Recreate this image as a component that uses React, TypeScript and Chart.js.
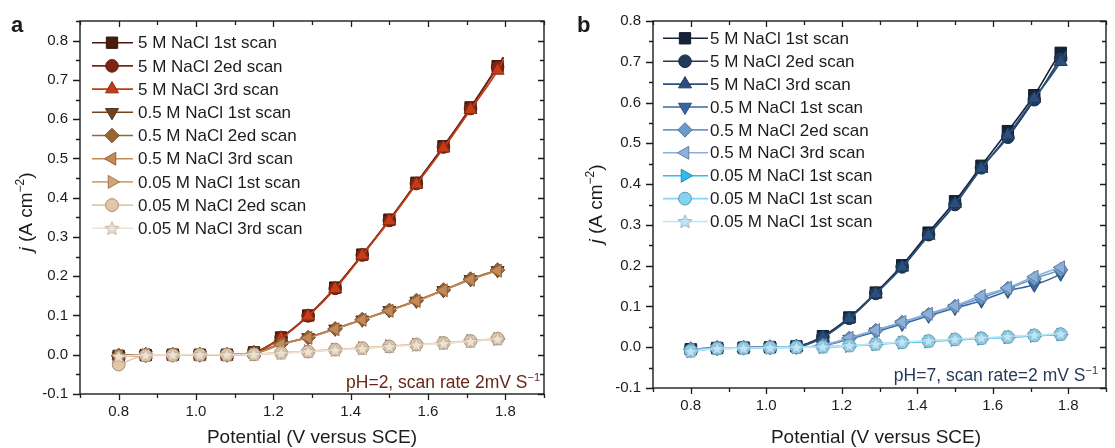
import { useEffect, useRef } from "react";
import { Chart, registerables } from "chart.js";
import { drawPoint } from "chart.js/helpers";

Chart.register(...registerables);

const FONT = "'Liberation Sans', Arial, Helvetica, sans-serif";
const INK = "#1c1c1c";

// Sampled potentials (V vs SCE); the final entry is the end of the sweep and carries no marker
const potential = [0.8, 0.87, 0.94, 1.01, 1.08, 1.15, 1.22, 1.29, 1.36, 1.43, 1.5, 1.57, 1.64, 1.71, 1.78, 1.795];

// Panel a: pH = 2
const a5M1 = [-0.003, -0.001, 0, 0, 0, 0.006, 0.044, 0.1, 0.171, 0.255, 0.344, 0.438, 0.531, 0.63, 0.735, 0.758];
const a5M2 = [-0.004, -0.001, 0, 0, 0, 0.005, 0.043, 0.099, 0.169, 0.254, 0.342, 0.436, 0.529, 0.627, 0.733, 0.757];
const a5M3 = [-0.002, 0, 0, 0, 0, 0.005, 0.042, 0.098, 0.168, 0.253, 0.341, 0.434, 0.526, 0.624, 0.724, 0.752];
const a05M1 = [-0.003, -0.001, 0, 0, 0, 0.004, 0.027, 0.044, 0.066, 0.089, 0.113, 0.137, 0.164, 0.192, 0.215, 0.219];
const a05M2 = [-0.002, 0, 0, 0, 0, 0.004, 0.028, 0.044, 0.066, 0.09, 0.113, 0.138, 0.165, 0.193, 0.216, 0.22];
const a05M3 = [-0.003, 0, 0, 0, 0, 0.003, 0.026, 0.043, 0.065, 0.089, 0.112, 0.137, 0.164, 0.191, 0.214, 0.218];
const a005M1 = [-0.005, -0.001, 0, 0, 0, 0.001, 0.005, 0.009, 0.013, 0.017, 0.022, 0.026, 0.03, 0.035, 0.04, 0.041];
const a005M2 = [-0.025, -0.002, -0.001, 0, 0, 0.001, 0.005, 0.008, 0.013, 0.017, 0.021, 0.026, 0.03, 0.035, 0.041, 0.042];
const a005M3 = [-0.004, -0.001, 0, 0, 0, 0.001, 0.004, 0.008, 0.012, 0.016, 0.021, 0.025, 0.029, 0.034, 0.04, 0.041];

// Panel b: pH = 7
const b5M1 = [-0.005, -0.002, -0.001, 0, 0.002, 0.027, 0.073, 0.134, 0.201, 0.281, 0.358, 0.445, 0.53, 0.618, 0.722, 0.735];
const b5M2 = [-0.006, -0.002, -0.001, 0, 0.002, 0.025, 0.071, 0.132, 0.197, 0.276, 0.35, 0.44, 0.515, 0.607, 0.708, 0.728];
const b5M3 = [-0.005, -0.002, -0.001, 0, 0.001, 0.024, 0.07, 0.131, 0.196, 0.274, 0.352, 0.438, 0.52, 0.61, 0.7, 0.725];
const b05M1 = [-0.006, -0.002, -0.001, 0, 0, 0.004, 0.02, 0.038, 0.057, 0.077, 0.096, 0.114, 0.138, 0.153, 0.18, 0.19];
const b05M2 = [-0.005, -0.002, -0.001, 0, 0, 0.005, 0.022, 0.041, 0.061, 0.08, 0.1, 0.121, 0.144, 0.168, 0.19, 0.196];
const b05M3 = [-0.006, -0.002, -0.001, 0, 0, 0.005, 0.023, 0.042, 0.062, 0.082, 0.102, 0.126, 0.146, 0.173, 0.196, 0.2];
const b005M1 = [-0.01, -0.003, -0.002, -0.001, 0, 0, 0.003, 0.007, 0.011, 0.014, 0.018, 0.021, 0.024, 0.028, 0.031, 0.032];
const b005M2 = [-0.009, -0.003, -0.002, -0.001, 0, 0.001, 0.004, 0.008, 0.012, 0.015, 0.019, 0.022, 0.025, 0.029, 0.032, 0.033];
const b005M3 = [-0.01, -0.003, -0.002, -0.001, 0, 0.001, 0.004, 0.008, 0.013, 0.016, 0.02, 0.023, 0.026, 0.03, 0.033, 0.034];

const namesA = [
  "5 M NaCl 1st scan", "5 M NaCl 2ed scan", "5 M NaCl 3rd scan",
  "0.5 M NaCl 1st scan", "0.5 M NaCl 2ed scan", "0.5 M NaCl 3rd scan",
  "0.05 M NaCl 1st scan", "0.05 M NaCl 2ed scan", "0.05 M NaCl 3rd scan",
];
const namesB = [
  "5 M NaCl 1st scan", "5 M NaCl 2ed scan", "5 M NaCl 3rd scan",
  "0.5 M NaCl 1st scan", "0.5 M NaCl 2ed scan", "0.5 M NaCl 3rd scan",
  "0.05 M NaCl 1st scan", "0.05 M NaCl 1st scan", "0.05 M NaCl 1st scan",
];

const colorsA = ["#4a1a0e", "#7c2512", "#c43c18", "#704421", "#9b6533", "#c38a58", "#d6a472", "#e3c6a6", "#efe1cf"];
const colorsB = ["#14233a", "#203a5a", "#2b4f7d", "#3768a1", "#6b9bcc", "#8cb0dc", "#2cbdf0", "#84d3f3", "#bde5f8"];

// x tick labels every 0.2 V, marks every 0.1 V; y labels every 0.1, marks every 0.05
const xLabelTicks = [0.8, 1.0, 1.2, 1.4, 1.6, 1.8];
const xMarkTicks = [0.7, 0.8, 0.9, 1.0, 1.1, 1.2, 1.3, 1.4, 1.5, 1.6, 1.7, 1.8, 1.9];
const yLabelTicks = [-0.1, 0.0, 0.1, 0.2, 0.3, 0.4, 0.5, 0.6, 0.7, 0.8];
const yMarkTicksA = [-0.1, -0.05, 0, 0.05, 0.1, 0.15, 0.2, 0.25, 0.3, 0.35, 0.4, 0.45, 0.5, 0.55, 0.6, 0.65, 0.7, 0.75, 0.8, 0.85];
const yMarkTicksB = [-0.1, -0.05, 0, 0.05, 0.1, 0.15, 0.2, 0.25, 0.3, 0.35, 0.4, 0.45, 0.5, 0.55, 0.6, 0.65, 0.7, 0.75, 0.8];

type Marker = { style: string; rotation: number; radius: number };
const markers: Marker[] = [
  { style: "rect", rotation: 0, radius: 8 },
  { style: "circle", rotation: 0, radius: 6.3 },
  { style: "triangle", rotation: 0, radius: 7.5 },
  { style: "triangle", rotation: 180, radius: 7.5 },
  { style: "rectRot", rotation: 0, radius: 7.2 },
  { style: "triangle", rotation: 270, radius: 7.5 },
  { style: "triangle", rotation: 90, radius: 7.5 },
  { style: "circle", rotation: 0, radius: 6.4 },
  { style: "star", rotation: 0, radius: 7.2 },
];

function shade(hex: string, k: number): string {
  const n = parseInt(hex.slice(1), 16);
  const r = Math.round(((n >> 16) & 255) * k);
  const g = Math.round(((n >> 8) & 255) * k);
  const b = Math.round((n & 255) * k);
  return `rgb(${r},${g},${b})`;
}

// Filled five-point star used as a point style
function starCanvas(fill: string, edge: string, r: number): HTMLCanvasElement {
  const size = Math.ceil(r * 2 + 2);
  const c = document.createElement("canvas");
  c.width = size;
  c.height = size;
  const g = c.getContext("2d")!;
  const cx = size / 2;
  const cy = size / 2 + 0.5;
  g.beginPath();
  for (let i = 0; i < 10; i++) {
    const rr = i % 2 === 0 ? r : r * 0.45;
    const a = -Math.PI / 2 + (i * Math.PI) / 5;
    const px = cx + rr * Math.cos(a);
    const py = cy + rr * Math.sin(a);
    if (i === 0) g.moveTo(px, py);
    else g.lineTo(px, py);
  }
  g.closePath();
  g.fillStyle = fill;
  g.fill();
  g.strokeStyle = edge;
  g.lineWidth = 0.8;
  g.stroke();
  return c;
}

type PanelSpec = {
  left: number;
  width: number;
  height: number;
  area: { left: number; right: number; top: number; bottom: number };
  yMax: number;
  yMarks: number[];
  series: number[][];
  names: string[];
  colors: string[];
  legend: { x0: number; x1: number; mx: number; tx: number; y0: number; dy: number };
  note: { text: string; color: string; right: number; base: number };
  tag: { text: string; x: number; y: number };
  yTitle: { x: number; y: number };
  xTitle: { x: number; y: number };
};

function drawRich(ctx: CanvasRenderingContext2D, parts: { t: string; italic?: boolean; sup?: boolean }[], size: number, x: number, y: number, align: "center" | "right") {
  const fontOf = (p: { italic?: boolean; sup?: boolean }) =>
    `${p.italic ? "italic " : ""}${p.sup ? Math.round(size * 0.62) : size}px ${FONT}`;
  let total = 0;
  const widths = parts.map((p) => {
    ctx.font = fontOf(p);
    const w = ctx.measureText(p.t).width;
    total += w;
    return w;
  });
  let cx = align === "center" ? x - total / 2 : x - total;
  ctx.textAlign = "left";
  ctx.textBaseline = "alphabetic";
  parts.forEach((p, i) => {
    ctx.font = fontOf(p);
    ctx.fillText(p.t, cx, p.sup ? y - size * 0.42 : y);
    cx += widths[i];
  });
}

function Panel({ spec }: { spec: PanelSpec }) {
  const ref = useRef<HTMLCanvasElement>(null);

  useEffect(() => {
    const canvas = ref.current;
    if (!canvas) return;
    const s = spec;

    const styles = markers.map((m, i) => {
      const edge = shade(s.colors[i], 0.72);
      return m.style === "star" ? starCanvas(s.colors[i], edge, m.radius) : m.style;
    });

    const last = potential.length - 1;
    const datasets = s.series.map((vals, i) => ({
      label: s.names[i],
      data: potential.map((x, k) => ({ x, y: vals[k] })),
      borderColor: s.colors[i],
      backgroundColor: s.colors[i],
      borderWidth: 1.6,
      cubicInterpolationMode: "monotone" as const,
      pointStyle: styles[i] as any,
      pointRotation: markers[i].rotation,
      pointRadius: (c: any) => (c.dataIndex === last ? 0 : markers[i].radius),
      pointBackgroundColor: s.colors[i],
      pointBorderColor: shade(s.colors[i], 0.72),
      pointBorderWidth: 1,
      order: s.series.length - 1 - i,
    }));

    const frame = {
      id: "frame",
      afterDraw(chart: any) {
        const { ctx, chartArea: ca, scales } = chart;
        const xs = scales.x;
        const ys = scales.y;
        ctx.save();
        ctx.strokeStyle = INK;
        ctx.lineWidth = 1.4;
        ctx.strokeRect(ca.left, ca.top, ca.right - ca.left, ca.bottom - ca.top);
        ctx.lineWidth = 1.3;
        ctx.beginPath();
        xMarkTicks.forEach((v) => {
          const px = Math.round(xs.getPixelForValue(v)) + 0.5;
          const major = Math.round(v * 10) % 2 === 0;
          ctx.moveTo(px, ca.bottom);
          ctx.lineTo(px, ca.bottom + (major ? 6 : 4));
          ctx.moveTo(px, ca.top);
          ctx.lineTo(px, ca.top + (major ? 6 : 4));
        });
        s.yMarks.forEach((v) => {
          const py = Math.round(ys.getPixelForValue(v)) + 0.5;
          const major = Math.round(v * 20) % 2 === 0;
          ctx.moveTo(ca.left, py);
          ctx.lineTo(ca.left - (major ? 7 : 4), py);
          ctx.moveTo(ca.right, py);
          ctx.lineTo(ca.right - (major ? 6 : 4), py);
        });
        ctx.stroke();

        // legend: line segment with marker, then text
        const L = s.legend;
        chart.data.datasets.forEach((ds: any, i: number) => {
          const y = L.y0 + i * L.dy;
          ctx.strokeStyle = ds.borderColor;
          ctx.lineWidth = 1.6;
          ctx.beginPath();
          ctx.moveTo(L.x0, y);
          ctx.lineTo(L.x1, y);
          ctx.stroke();
          ctx.fillStyle = ds.pointBackgroundColor;
          ctx.strokeStyle = ds.pointBorderColor;
          ctx.lineWidth = 1;
          drawPoint(ctx, { pointStyle: ds.pointStyle, rotation: markers[i].rotation, radius: markers[i].radius, borderWidth: 1 } as any, L.mx, y);
          ctx.fillStyle = INK;
          ctx.font = `17px ${FONT}`;
          ctx.textAlign = "left";
          ctx.textBaseline = "middle";
          ctx.fillText(ds.label, L.tx, y + 1);
        });

        // condition note
        ctx.fillStyle = s.note.color;
        drawRich(ctx, [{ t: s.note.text }, { t: "\u22121", sup: true }], 17.5, s.note.right, s.note.base, "right");

        // axis titles
        ctx.fillStyle = INK;
        drawRich(ctx, [{ t: "Potential (V versus SCE)" }], 19, s.xTitle.x, s.xTitle.y, "center");
        ctx.save();
        ctx.translate(s.yTitle.x, s.yTitle.y);
        ctx.rotate(-Math.PI / 2);
        drawRich(ctx, [{ t: "j", italic: true }, { t: " (A cm" }, { t: "\u22122", sup: true }, { t: ")" }], 19, 0, 0, "center");
        ctx.restore();

        // panel letter
        ctx.font = `bold 22px ${FONT}`;
        ctx.textAlign = "left";
        ctx.textBaseline = "alphabetic";
        ctx.fillText(s.tag.text, s.tag.x, s.tag.y);
        ctx.restore();
      },
    };

    const tickFont = { family: FONT, size: 15 };
    const chart = new Chart(canvas, {
      type: "line",
      data: { datasets },
      options: {
        animation: false,
        responsive: false,
        devicePixelRatio: 1,
        layout: { padding: { top: s.area.top, right: s.width - s.area.right, left: 0, bottom: 0 } },
        plugins: { legend: { display: false }, tooltip: { enabled: false } },
        scales: {
          x: {
            type: "linear",
            min: 0.7,
            max: 1.9,
            grid: { display: false, drawTicks: false },
            border: { display: false },
            afterBuildTicks: (sc: any) => {
              sc.ticks = xLabelTicks.map((v) => ({ value: v }));
            },
            afterFit: (sc: any) => {
              sc.height = s.height - s.area.bottom;
            },
            ticks: {
              autoSkip: false,
              maxRotation: 0,
              padding: 9,
              color: INK,
              font: tickFont,
              callback: (v: any) => Number(v).toFixed(1),
            },
          },
          y: {
            type: "linear",
            min: -0.1,
            max: s.yMax,
            grid: { display: false, drawTicks: false },
            border: { display: false },
            afterBuildTicks: (sc: any) => {
              sc.ticks = yLabelTicks.map((v) => ({ value: v }));
            },
            afterFit: (sc: any) => {
              sc.width = s.area.left;
            },
            ticks: {
              autoSkip: false,
              padding: 12,
              color: INK,
              font: tickFont,
              callback: (v: any) => Number(v).toFixed(1),
            },
          },
        },
      },
      plugins: [frame],
    });
    return () => chart.destroy();
  }, [spec]);

  return (
    <canvas
      ref={ref}
      width={spec.width}
      height={spec.height}
      style={{ position: "absolute", left: spec.left, top: 0, width: spec.width, height: spec.height }}
    />
  );
}

const panelA: PanelSpec = {
  left: 0,
  width: 560,
  height: 448,
  area: { left: 80, right: 544, top: 16, bottom: 394 },
  yMax: 0.85,
  yMarks: yMarkTicksA,
  series: [a5M1, a5M2, a5M3, a05M1, a05M2, a05M3, a005M1, a005M2, a005M3],
  names: namesA,
  colors: colorsA,
  legend: { x0: 92, x1: 133, mx: 112, tx: 138, y0: 42.7, dy: 23.2 },
  note: { text: "pH=2, scan rate 2mV S", color: "#6a2718", right: 540, base: 388 },
  tag: { text: "a", x: 11, y: 32 },
  yTitle: { x: 32, y: 212 },
  xTitle: { x: 312, y: 443 },
};

const panelB: PanelSpec = {
  left: 560,
  width: 555,
  height: 448,
  area: { left: 93, right: 549, top: 16, bottom: 388 },
  yMax: 0.8,
  yMarks: yMarkTicksB,
  series: [b5M1, b5M2, b5M3, b05M1, b05M2, b05M3, b005M1, b005M2, b005M3],
  names: namesB,
  colors: colorsB,
  legend: { x0: 103, x1: 148, mx: 125, tx: 150, y0: 38.3, dy: 22.9 },
  note: { text: "pH=7, scan rate=2 mV S", color: "#263a58", right: 538, base: 381 },
  tag: { text: "b", x: 17, y: 32 },
  yTitle: { x: 42, y: 204 },
  xTitle: { x: 316, y: 443 },
};

export default function App() {
  return (
    <div style={{ position: "fixed", left: 0, top: 0, width: 1115, height: 448, background: "#fff" }}>
      <Panel spec={panelA} />
      <Panel spec={panelB} />
    </div>
  );
}
